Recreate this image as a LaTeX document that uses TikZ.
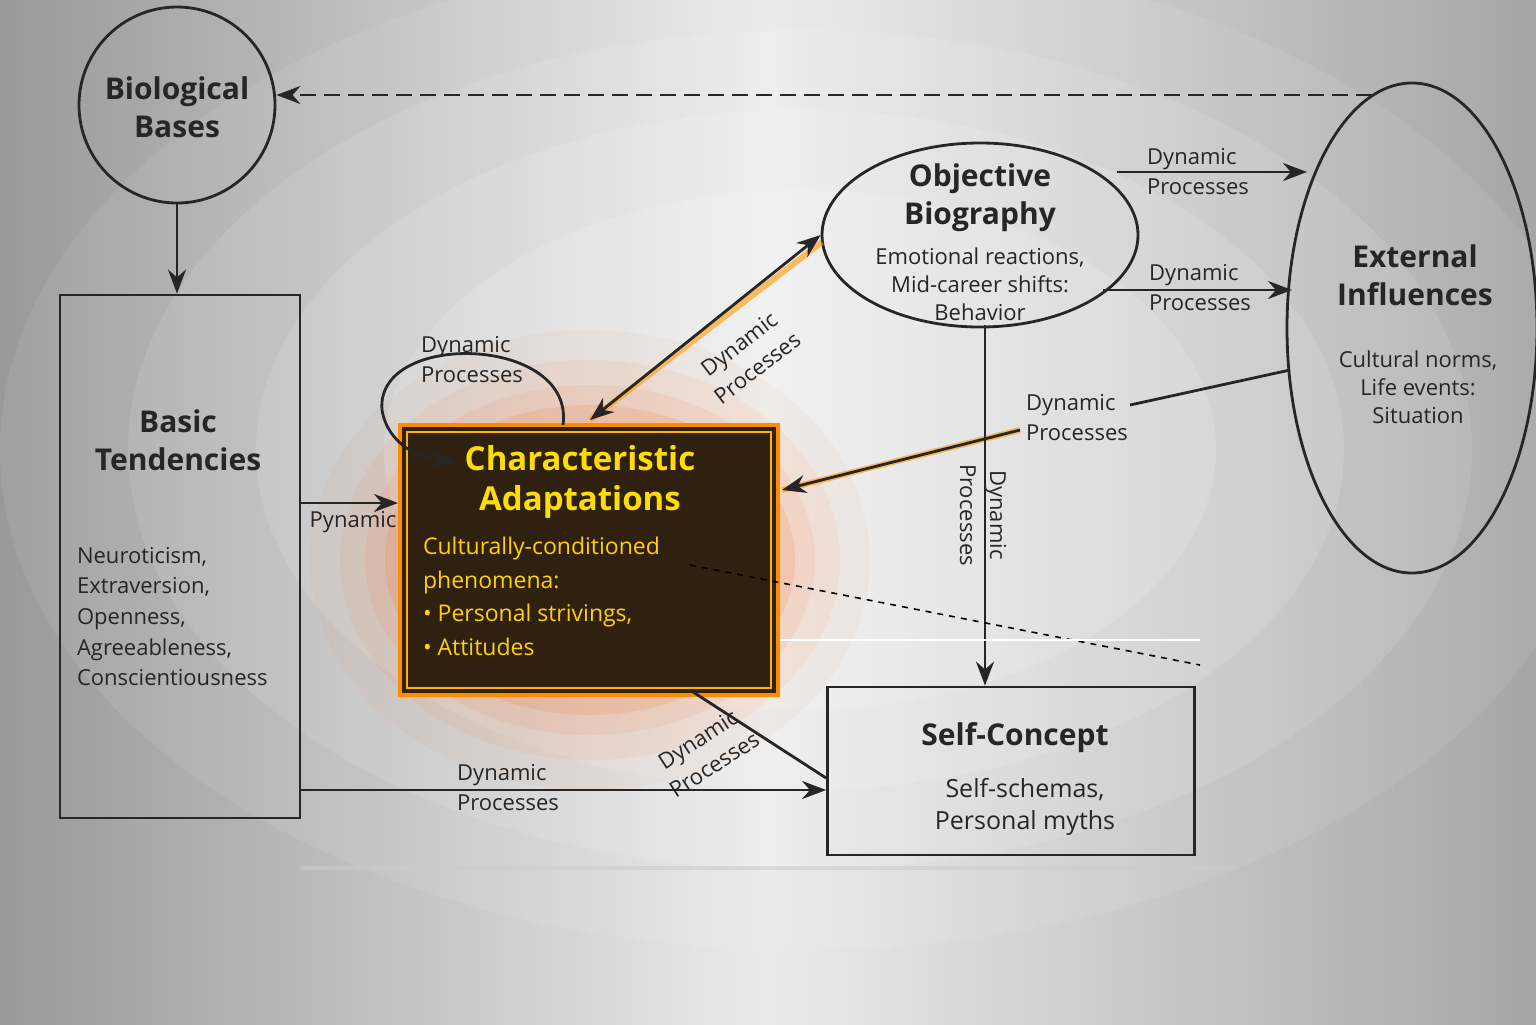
\documentclass[tikz,border=0pt]{standalone}
\usepackage{fontspec}
\setmainfont{Open Sans}
\usetikzlibrary{arrows.meta,shapes.geometric}
\begin{document}
\begin{tikzpicture}[x=0.5pt,y=-0.5pt,
  ln/.style={line width=1.4pt,draw=black!85},
  arr/.style={ln,-{Stealth[length=12pt,width=9pt]}},
  lbl/.style={font=\fontsize{11}{15}\selectfont,align=left,text=black!85},
  ttl/.style={font=\bfseries\fontsize{15}{19}\selectfont,align=center,text=black!85},
  body/.style={font=\fontsize{11}{14}\selectfont,align=center,text=black!85}]
\useasboundingbox (0,0) rectangle (1536,1024);
\shade[left color=black!40,right color=black!35,middle color=black!8] (0,0) rectangle (1536,1024);
\foreach \r/\o in {500/0.08,420/0.1,340/0.12,260/0.14}{
 \fill[white,opacity=\o] (800,450) ellipse ({\r*1.6} and \r);}
% glow
\foreach \r/\o in {230/0.04,200/0.06,175/0.08,155/0.12}{
 \fill[orange!70!red,opacity=\o] (590,560) ellipse ({\r+50} and \r);}
% nodes
\node[circle,ln,minimum size=98pt] (bio) at (177,105) {};
\node[ttl] at (177,107) {Biological\\Bases};
\node[draw,ln,minimum width=120pt,minimum height=261.5pt] (bt) at (180,556.5) {};
\node[ttl] at (178,440) {Basic\\Tendencies};
\node[lbl,anchor=north west,font=\fontsize{11}{15.3}\selectfont] at (70,540) {Neuroticism,\\Extraversion,\\Openness,\\Agreeableness,\\Conscientiousness};
\node[draw=orange!90!yellow,line width=2pt,fill=black!75!brown,minimum width=189pt,minimum height=135pt] (ca) at (589,560) {};
\draw[orange!60!yellow,line width=1pt] (407,432) rectangle (771,688);
\node[font=\bfseries\fontsize{16.5}{20}\selectfont,align=center,text=yellow!80!orange] at (580,482) {Characteristic\\Adaptations};
\node[anchor=north west,font=\fontsize{11.5}{16.8}\selectfont,align=left,text=yellow!70!orange] at (416,530)
 {Culturally-conditioned\\phenomena:\\• Personal strivings,\\• Attitudes};
\node[ellipse,ln,minimum width=158pt,minimum height=92pt] (ob) at (980,235) {};
\node[ttl] at (980,198) {Objective\\Biography};
\node[body] at (980,284) {Emotional reactions,\\Mid-career shifts:\\Behavior};
\node[ellipse,ln,minimum width=125pt,minimum height=245pt] (ex) at (1412,328) {};
\node[ttl] at (1415,275) {External\\Influences};
\node[body] at (1418,387) {Cultural norms,\\Life events:\\Situation};
\node[draw,ln,minimum width=183.5pt,minimum height=84pt] (sc) at (1011,771) {};
\node[ttl] at (1015,738) {Self-Concept};
\node[body,font=\fontsize{12.5}{16}\selectfont] at (1025,807) {Self-schemas,\\Personal myths};
% connectors
\draw[arr] (bio) -- (bt.north -| bio);
\coordinate (d1) at (1372,95);
\draw[ln,dash pattern=on 8pt off 4pt,-{Stealth[length=12pt,width=9pt]}] (d1) -- (bio.east |- d1);
\draw[arr] (bt.east |- 0,503) -- (ca.west |- 0,503);
\node[lbl] at (353,522) {Pynamic};
\coordinate (l0) at (563,425); \coordinate (l1) at (455,462);
\draw[arr] (l0) .. controls (575,335) and (375,330) .. (382,410) .. controls (388,445) and (420,458) .. (l1);
\node[lbl] at (472,360) {Dynamic\\Processes};
\draw[orange!80!yellow,line width=3pt,opacity=0.6] (590,420) -- (822,242);
\draw[ln,{Stealth[length=12pt,width=9pt]}-{Stealth[length=12pt,width=9pt]}] (590,420) -- (ob.west);
\node[lbl,rotate=37.5,align=center] at (748,356) {Dynamic\\Processes};
\draw[arr] (1117,172) -- (1307,172);
\node[lbl] at (1198,172) {Dynamic\\Processes};
\draw[arr] (1103,290) -- (1292,290);
\node[lbl] at (1200,288) {Dynamic\\Processes};
\coordinate (e0) at (1290,370);
\draw[ln] (e0) -- (1130,405);
\draw[orange!80!yellow,line width=3pt,opacity=0.6] (1020,430) -- (782,490);
\draw[arr] (1020,430) -- (782,490);
\node[lbl] at (1077,418) {Dynamic\\Processes};
\draw[arr] (985,325) -- (sc.north -| 985,0);
\node[lbl,rotate=-90,align=center] at (983,515) {Dynamic\\Processes};
\draw[arr] (bt.east |- 0,790) -- (sc.west |- 0,790);
\node[lbl] at (508,788) {Dynamic\\Processes};
\draw[ln] (690,690) -- (sc.west |- 0,778);
\node[lbl,rotate=33,align=center] at (706,752) {Dynamic\\Processes};
\draw[dashed,line width=0.8pt] (690,565) -- (1200,665);
\draw[white,line width=1pt] (780,640) -- (1200,640);
\draw[black!20,line width=2pt,opacity=0.6] (300,868) -- (1240,868);
\end{tikzpicture}
\end{document}
